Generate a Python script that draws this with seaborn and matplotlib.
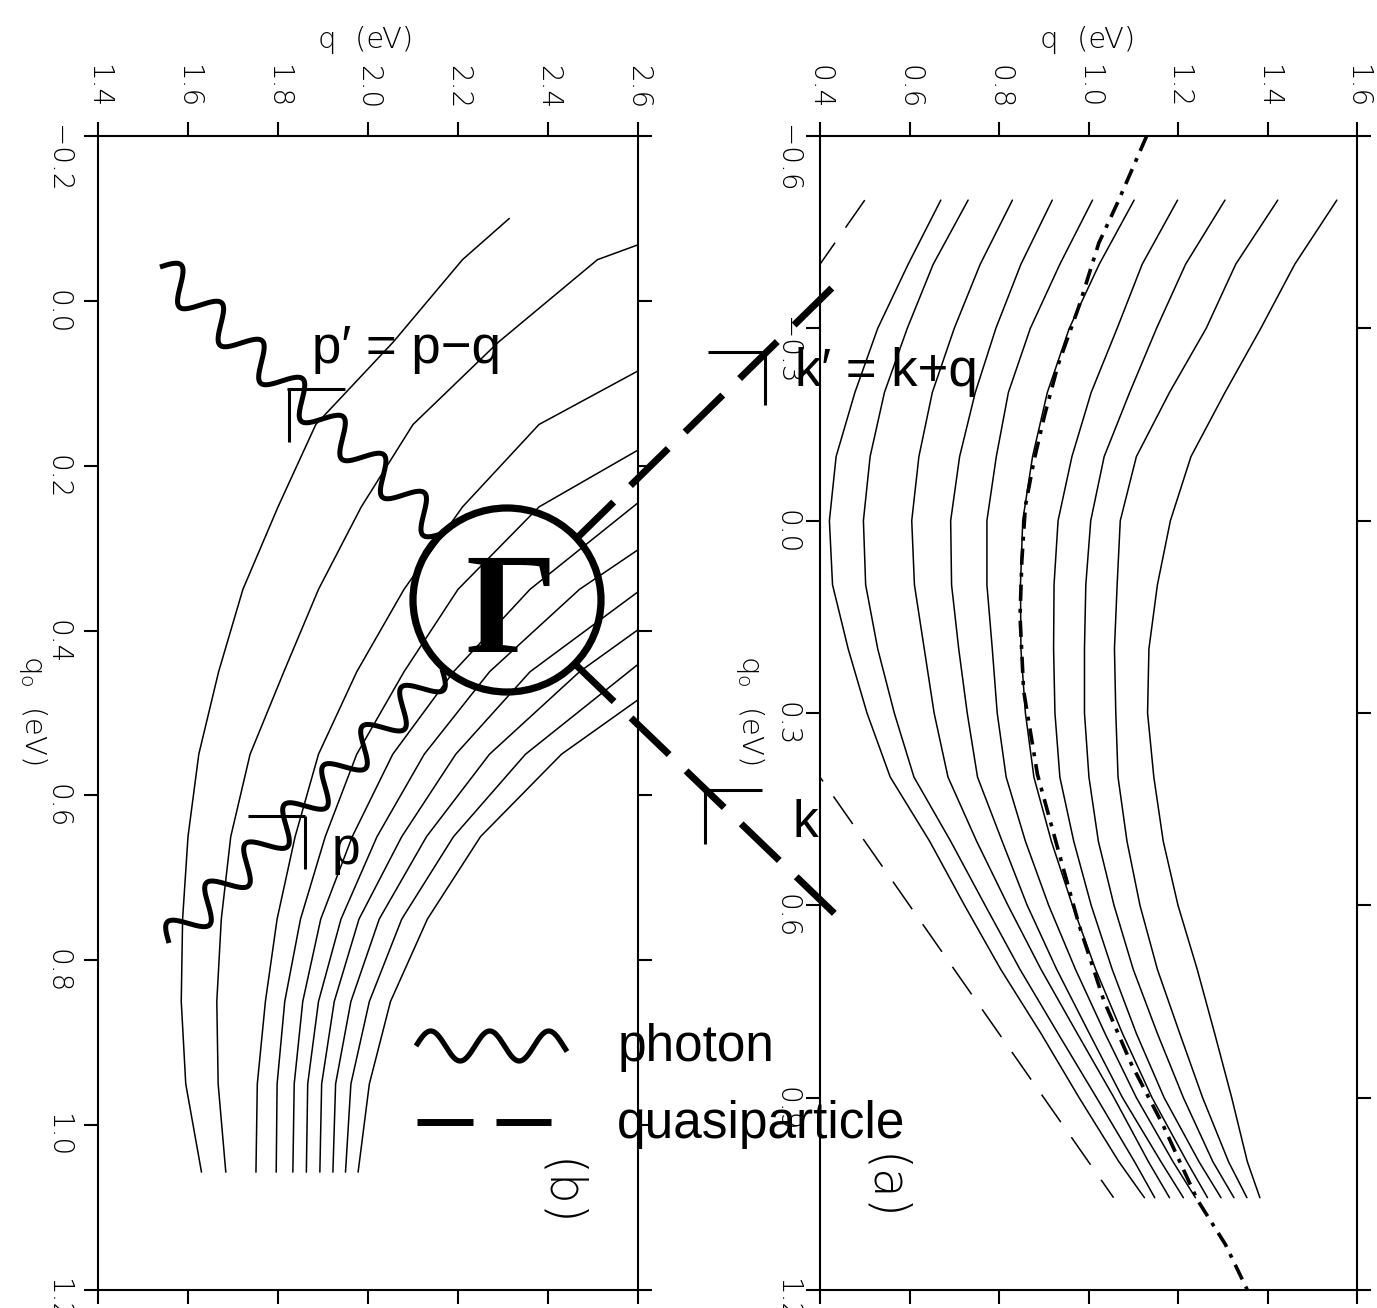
import numpy as np
import pandas as pd
import seaborn as sns
import matplotlib.pyplot as plt
from matplotlib.patches import Ellipse

nan = np.nan

# ---------------- panel (b): q0 grid, q of each contour ----------------
b_q0 = [1.057, 0.95, 0.85, 0.75, 0.65, 0.55, 0.45, 0.35, 0.25, 0.15, 0.05, -0.05]
b_c1 = [1.630, 1.595, 1.585, 1.588, 1.600, 1.624, 1.668, 1.722, 1.800, 1.884, 2.056, 2.210]
b_c2 = [1.684, 1.667, 1.664, 1.674, 1.695, 1.738, 1.813, 1.890, 1.985, 2.100, 2.290, 2.510]
b_c3 = [1.751, 1.754, 1.772, 1.798, 1.838, 1.890, 1.975, 2.080, 2.210, 2.380, nan, nan]
b_c4 = [1.796, 1.798, 1.815, 1.850, 1.905, 1.975, 2.080, 2.200, 2.380, nan, nan, nan]
b_c5 = [1.833, 1.836, 1.855, 1.895, 1.965, 2.055, 2.190, 2.360, nan, nan, nan, nan]
b_c6 = [1.863, 1.866, 1.890, 1.940, 2.020, 2.125, 2.270, 2.470, nan, nan, nan, nan]
b_c7 = [1.893, 1.897, 1.925, 1.980, 2.075, 2.195, 2.360, nan, nan, nan, nan, nan]
b_c8 = [1.922, 1.928, 1.962, 2.025, 2.130, 2.270, 2.470, nan, nan, nan, nan, nan]
b_c9 = [1.950, 1.962, 2.003, 2.075, 2.190, 2.350, nan, nan, nan, nan, nan, nan]
b_c10 = [1.978, 2.003, 2.050, 2.132, 2.250, 2.430, nan, nan, nan, nan, nan, nan]
b_curves = [b_c1, b_c2, b_c3, b_c4, b_c5, b_c6, b_c7, b_c8, b_c9, b_c10]
# upper/right end point of each contour
b_end_q0 = [-0.100, -0.068, 0.085, 0.181, 0.245, 0.302, 0.353, 0.399, 0.441, 0.484]
b_end_q = [2.314, 2.6, 2.6, 2.6, 2.6, 2.6, 2.6, 2.6, 2.6, 2.6]

# ---------------- panel (a) ----------------
a_q0 = [-0.5, -0.4, -0.3, -0.2, -0.1, 0.0, 0.1, 0.2, 0.3, 0.4, 0.5, 0.6, 0.7, 0.8, 0.9, 1.0, 1.056]
a_c1 = [0.670, 0.597, 0.529, 0.478, 0.436, 0.421, 0.428, 0.463, 0.505, 0.557, 0.645, 0.723, 0.804, 0.894, 0.979, 1.068, 1.125]
a_c2 = [0.731, 0.653, 0.595, 0.544, 0.512, 0.497, 0.502, 0.529, 0.566, 0.610, 0.692, 0.769, 0.847, 0.932, 1.018, 1.103, 1.148]
a_c3 = [0.830, 0.758, 0.700, 0.651, 0.621, 0.605, 0.611, 0.633, 0.655, 0.686, 0.750, 0.820, 0.894, 0.975, 1.057, 1.134, 1.181]
a_c4 = [0.919, 0.849, 0.793, 0.747, 0.712, 0.692, 0.694, 0.710, 0.729, 0.752, 0.807, 0.863, 0.929, 1.002, 1.076, 1.162, 1.212]
a_c5 = [1.009, 0.936, 0.870, 0.821, 0.794, 0.773, 0.773, 0.785, 0.796, 0.816, 0.859, 0.911, 0.971, 1.037, 1.107, 1.189, 1.239]
a_c6 = [1.102, 1.024, 0.957, 0.908, 0.875, 0.853, 0.848, 0.849, 0.859, 0.878, 0.917, 0.964, 1.016, 1.076, 1.142, 1.220, 1.266]
a_c7 = [1.199, 1.120, 1.064, 1.006, 0.963, 0.932, 0.923, 0.922, 0.925, 0.936, 0.967, 1.006, 1.053, 1.107, 1.169, 1.247, 1.296]
a_c8 = [1.305, 1.217, 1.152, 1.092, 1.035, 1.005, 0.994, 0.991, 0.991, 1.001, 1.022, 1.057, 1.100, 1.154, 1.212, 1.278, 1.325]
a_c9 = [1.423, 1.329, 1.263, 1.181, 1.107, 1.071, 1.064, 1.058, 1.061, 1.066, 1.086, 1.115, 1.154, 1.204, 1.255, 1.313, 1.354]
a_c10 = [1.555, 1.461, 1.385, 1.305, 1.229, 1.183, 1.154, 1.135, 1.132, 1.146, 1.167, 1.200, 1.243, 1.282, 1.320, 1.355, 1.383]
a_curves = [a_c1, a_c2, a_c3, a_c4, a_c5, a_c6, a_c7, a_c8, a_c9, a_c10]

# light cone (thin dashed) and mass shell (dash-dot)
cone_q0 = [-0.5, 0.0, 1.056]
cone_q = [0.5, 0.0, 1.056]
shell_q0 = [-0.6, -0.496, -0.433, -0.335, -0.243, -0.162, -0.093, -0.023, 0.063, 0.149,
            0.265, 0.396, 0.513, 0.631, 0.748, 0.848, 0.942, 1.059, 1.129, 1.2]
shell_q = [1.130, 1.065, 1.023, 0.979, 0.932, 0.901, 0.878, 0.859, 0.851, 0.847,
           0.855, 0.886, 0.932, 0.979, 1.034, 1.096, 1.166, 1.243, 1.306, 1.355]

b_xticks = [1.4, 1.6, 1.8, 2.0, 2.2, 2.4, 2.6]
b_yticks = [-0.2, 0.0, 0.2, 0.4, 0.6, 0.8, 1.0, 1.2]
a_xticks = [0.4, 0.6, 0.8, 1.0, 1.2, 1.4, 1.6]
a_yticks = [-0.6, -0.3, 0.0, 0.3, 0.6, 0.9, 1.2]

# long tables
rows = []
for i, c in enumerate(b_curves):
    pts = [(q0, q) for q0, q in zip(b_q0, c) if not np.isnan(q)]
    pts.append((b_end_q0[i], b_end_q[i]))
    for q0, q in pts:
        rows.append({"curve": i, "q0": q0, "q": q})
df_b = pd.DataFrame(rows)
rows = []
for i, c in enumerate(a_curves):
    for q0, q in zip(a_q0, c):
        rows.append({"curve": i, "q0": q0, "q": q})
df_a = pd.DataFrame(rows)

sns.set_theme(style="ticks")
plt.rcParams["font.family"] = ["DejaVu Sans"]
plt.rcParams["mathtext.default"] = "regular"
for k in ["text.color", "axes.labelcolor", "xtick.color", "ytick.color", "axes.edgecolor"]:
    plt.rcParams[k] = "black"

W, H = 1377, 1308
fig = plt.figure(figsize=(W / 100, H / 100), dpi=100)
fig.patch.set_facecolor("white")

def px_axes(x0, x1, y0, y1):
    return fig.add_axes([x0 / W, 1 - y1 / H, (x1 - x0) / W, (y1 - y0) / H])

ax_b = px_axes(98, 638, 136, 1290)
ax_a = px_axes(820, 1357, 136, 1290)

def fmt(v):
    return "0.0" if abs(v) < 1e-9 else f"{v:.1f}".replace("-", "\u2212")

def style(ax, xlim, ylim, xt, yt, ypad):
    ax.set_xlim(*xlim)
    ax.set_ylim(ylim[1], ylim[0])
    ax.set_xticks(xt)
    ax.set_yticks(yt)
    ax.set_xticklabels([fmt(v) for v in xt])
    ax.set_yticklabels([fmt(v) for v in yt])
    ax.xaxis.tick_top()
    ax.tick_params(direction="out", length=10, width=1.5, top=True, bottom=True,
                   left=True, right=True, labeltop=True, labelbottom=False,
                   labelleft=True, labelright=False, colors="black")
    ax.tick_params(axis="x", pad=9, labelsize=20, labelrotation=-90)
    ax.tick_params(axis="y", pad=ypad, labelsize=20, labelrotation=-90)
    for lab in ax.get_xticklabels() + ax.get_yticklabels():
        lab.set_fontweight("light")
        lab.set_color("black")
    for s in ax.spines.values():
        s.set_linewidth(1.5)
        s.set_color("black")
    ax.set_xlabel("")
    ax.set_ylabel("")
    ax.set_facecolor("white")

sns.lineplot(data=df_b, x="q", y="q0", units="curve", estimator=None, sort=False,
             color="black", lw=1.1, ax=ax_b, legend=False)
style(ax_b, (1.4, 2.6), (-0.2, 1.2), b_xticks, b_yticks, 9)

sns.lineplot(data=df_a, x="q", y="q0", units="curve", estimator=None, sort=False,
             color="black", lw=1.1, ax=ax_a, legend=False)
sns.lineplot(x=cone_q, y=cone_q0, sort=False, estimator=None, color="black", lw=1.1,
             ax=ax_a).lines[-1].set_dashes((22, 12))
sns.lineplot(x=shell_q, y=shell_q0, sort=False, estimator=None, color="black", lw=2.6,
             ax=ax_a).lines[-1].set_dashes((4.5, 2.2, 1.1, 2.2))
style(ax_a, (0.4, 1.6), (-0.6, 1.2), a_xticks, a_yticks, 4)

# ---------------- overlay in pixel coordinates ----------------
ov = fig.add_axes([0, 0, 1, 1], zorder=10)
ov.set_xlim(0, W)
ov.set_ylim(H, 0)
ov.axis("off")
ov.patch.set_alpha(0)

lab_font = ["Liberation Sans", "DejaVu Sans"]

ov.text(366, 40, "q  (eV)", ha="center", va="center", fontsize=21, fontweight="light")
ov.text(1088, 40, "q  (eV)", ha="center", va="center", fontsize=21, fontweight="light")
ov.text(33, 710, "q$_o$  (eV)", ha="center", va="center", rotation=-90, fontsize=21, fontweight="light")
ov.text(750, 710, "q$_o$  (eV)", ha="center", va="center", rotation=-90, fontsize=21, fontweight="light")
ov.text(559, 1193, "(b)", ha="center", va="center", rotation=-90, fontsize=35, fontweight="light")
ov.text(883, 1188, "(a)", ha="center", va="center", rotation=-90, fontsize=35, fontweight="light")


def wave(p0, p1, periods, amp, n=600):
    p0 = np.asarray(p0, float)
    p1 = np.asarray(p1, float)
    d = p1 - p0
    u = d / np.hypot(*d)
    nrm = np.array([u[1], -u[0]])
    t = np.linspace(0, 1, n)
    s = amp * np.sin(2 * np.pi * periods * t)
    pts = p0 + np.outer(t, d) + np.outer(s, nrm)
    return pts[:, 0], pts[:, 1]

for p0, p1, per in [((160, 267), (444, 533), 7.0), ((169, 943), (442, 669), 7.0)]:
    x, y = wave(p0, p1, per, 16)
    ov.plot(x, y, color="black", lw=3.6, solid_capstyle="butt")
x, y = wave((416, 1046), (567, 1046), 2.56, 15)
ov.plot(x, y, color="black", lw=3.8, solid_capstyle="butt")

# vertex
ov.add_patch(Ellipse((507, 600), 188, 184, fill=False, lw=5.2, color="black"))
ov.text(511, 652, "\u0393", ha="center", va="baseline", fontsize=104,
        family=["Liberation Serif", "DejaVu Serif"], fontweight="bold")

# quasiparticle lines
for p0, p1 in [((576, 539), (838, 282)), ((576, 665), (836, 915))]:
    ov.plot([p0[0], p1[0]], [p0[1], p1[1]], color="black", lw=5, dashes=(7.6, 3.4),
            dash_capstyle="butt")
ov.plot([417, 473], [1122, 1122], color="black", lw=5, solid_capstyle="butt")
ov.plot([496, 551], [1122, 1122], color="black", lw=5, solid_capstyle="butt")

# momentum marks
marks = [((287, 345, 389), (289, 389, 442)),
         ((248, 305, 816), (305, 816, 869)),
         ((708, 768, 352), (765, 352, 405)),
         ((707, 762, 790), (705, 790, 844))]
for (hx0, hx1, hy), (vx, vy0, vy1) in marks:
    ov.plot([hx0, hx1], [hy, hy], color="black", lw=2.2, solid_capstyle="butt")
    ov.plot([vx, vx], [vy0, vy1], color="black", lw=2.2, solid_capstyle="butt")

ov.text(312, 363, "p\u2032 = p\u2212q", ha="left", va="baseline", fontsize=38, family=lab_font)
ov.text(795, 386, "k\u2032 = k+q", ha="left", va="baseline", fontsize=38, family=lab_font)
ov.text(793, 837, "k", ha="left", va="baseline", fontsize=37, family=lab_font)
ov.text(332, 864, "p", ha="left", va="baseline", fontsize=37, family=lab_font)
ov.text(618, 1061, "photon", ha="left", va="baseline", fontsize=37, family=lab_font)
ov.text(617, 1138, "quasiparticle", ha="left", va="baseline", fontsize=37, family=lab_font)

fig.savefig("out.png", dpi=100, facecolor="white")
